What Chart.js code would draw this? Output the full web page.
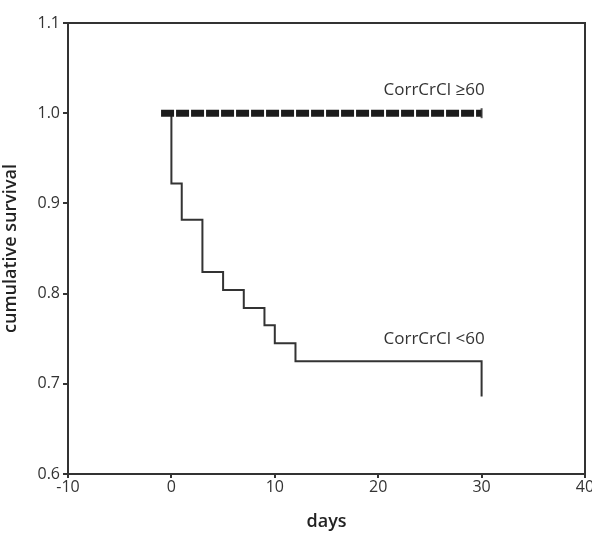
<!DOCTYPE html>
<html>
<head>
<meta charset="utf-8">
<script src="https://cdn.jsdelivr.net/npm/chart.js@4"></script>
<style>
  html, body { margin: 0; padding: 0; background: #fff; }
  #wrap { width: 592px; height: 537px; }
</style>
</head>
<body>
<div id="wrap"><canvas id="km" width="592" height="537"></canvas></div>
<script>
// Kaplan-Meier curves
const lowDays = [0, 0, 1, 3, 5, 7, 9, 10, 12, 30];
const lowSurvival = [1.0, 0.922, 0.882, 0.824, 0.804, 0.784, 0.765, 0.745, 0.725, 0.686];
const highDays = [-1, 30];
const highSurvival = [1.0, 1.0];
const censorDays = [30];
const censorSurvival = [1.0];
const xTicks = [-10, 0, 10, 20, 30, 40];
const yTicks = [0.6, 0.7, 0.8, 0.9, 1.0, 1.1];
const curveLabels = [
  { text: 'CorrCrCl \u226560', x: 30, y: 1.026 },
  { text: 'CorrCrCl <60', x: 30, y: 0.749 }
];

const ink = '#333';
const font = '"Open Sans", "DejaVu Sans", sans-serif';

const toPoints = (xs, ys) => xs.map((x, i) => ({ x, y: ys[i] }));

// frame on top/right plus the curve labels
const framePlugin = {
  id: 'frame',
  afterDatasetsDraw(chart) {
    const { ctx, chartArea: a, scales } = chart;
    ctx.save();
    ctx.strokeStyle = ink;
    ctx.lineWidth = 2;
    ctx.beginPath();
    ctx.moveTo(a.left, a.top);
    ctx.lineTo(a.right, a.top);
    ctx.lineTo(a.right, a.bottom);
    ctx.stroke();
    ctx.fillStyle = ink;
    ctx.font = '17px ' + font;
    ctx.textAlign = 'right';
    ctx.textBaseline = 'middle';
    curveLabels.forEach(l => {
      ctx.fillText(l.text, scales.x.getPixelForValue(l.x) + 3, scales.y.getPixelForValue(l.y));
    });
    ctx.restore();
  }
};

new Chart(document.getElementById('km'), {
  type: 'scatter',
  data: {
    datasets: [
      {
        label: 'CorrCrCl >=60',
        data: toPoints(highDays, highSurvival),
        showLine: true,
        borderColor: '#1c1c1c',
        borderWidth: 7,
        borderDash: [13, 2],
        pointRadius: 0
      },
      {
        label: 'censored',
        data: toPoints(censorDays, censorSurvival),
        showLine: false,
        pointStyle: 'line',
        rotation: 90,
        pointRadius: 5,
        borderColor: '#555',
        borderWidth: 2
      },
      {
        label: 'CorrCrCl <60',
        data: toPoints(lowDays, lowSurvival),
        showLine: true,
        stepped: 'before',
        borderColor: ink,
        borderWidth: 2,
        pointRadius: 0
      }
    ]
  },
  options: {
    responsive: false,
    animation: false,
    layout: { padding: { left: 0, right: 5, top: 23, bottom: 0 } },
    plugins: { legend: { display: false }, tooltip: { enabled: false } },
    scales: {
      x: {
        type: 'linear',
        min: -10,
        max: 40,
        afterBuildTicks: s => { s.ticks = xTicks.map(v => ({ value: v })); },
        afterFit: s => { s.height = 63; s.paddingRight = 0; s.paddingLeft = 0; },
        border: { color: ink, width: 2 },
        grid: { drawOnChartArea: false, drawTicks: true, tickLength: 4, color: ink, lineWidth: 2 },
        ticks: { color: ink, font: { family: font, size: 16 }, padding: 0, maxRotation: 0 },
        title: { display: true, text: 'days', color: '#222', font: { family: font, size: 18, weight: '600' }, padding: { top: 8 } }
      },
      y: {
        type: 'linear',
        min: 0.6,
        max: 1.1,
        afterBuildTicks: s => { s.ticks = yTicks.map(v => ({ value: v })); },
        afterFit: s => { s.width = 68; s.paddingTop = 0; s.paddingBottom = 0; },
        border: { color: ink, width: 2 },
        grid: { drawOnChartArea: false, drawTicks: true, tickLength: 5, color: ink, lineWidth: 2 },
        ticks: { color: ink, font: { family: font, size: 16 }, padding: 3, callback: v => v.toFixed(1) },
        title: { display: true, text: 'cumulative survival', color: '#222', font: { family: font, size: 18, weight: '600' }, padding: 0 }
      }
    }
  },
  plugins: [framePlugin]
});
</script>
</body>
</html>
